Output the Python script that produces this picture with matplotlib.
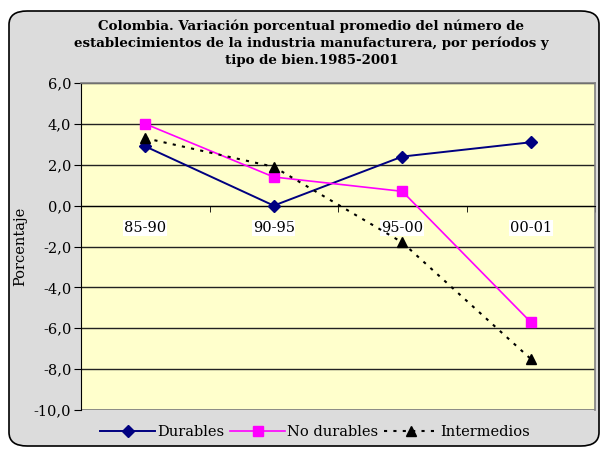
import matplotlib as mpl
import matplotlib.pyplot as plt
from matplotlib.patches import FancyBboxPatch
from matplotlib.ticker import FixedLocator, FuncFormatter

mpl.rcParams.update({
    "font.family": "DejaVu Serif",
    "font.size": 10,
})

periodos = ["85-90", "90-95", "95-00", "00-01"]
durables = [2.9, 0.0, 2.4, 3.1]
no_durables = [4.0, 1.4, 0.7, -5.7]
intermedios = [3.3, 1.9, -1.8, -7.5]
y_ticks = [-10, -8, -6, -4, -2, 0, 2, 4, 6]

titulo = ("Colombia. Variación porcentual promedio del número de\n"
          "establecimientos de la industria manufacturera, por períodos y\n"
          "tipo de bien.1985-2001")

fig = plt.figure(figsize=(6.06, 4.54), dpi=100)
fig.patch.set_facecolor("white")

# rounded grey chart area
W, H = 606, 454
frame = FancyBboxPatch((9 / W, 8 / H), 590 / W, 435 / H,
                       boxstyle="round,pad=0,rounding_size=0.03",
                       transform=fig.transFigure, facecolor="#dcdcdc",
                       edgecolor="black", linewidth=1.2, zorder=-5)
fig.patches.append(frame)

ax = fig.add_axes([81 / W, 1 - 410 / H, 514 / W, 327 / H])
ax.set_facecolor("#ffffcc")

x = list(range(len(periodos)))
ax.plot(x, durables, color="#000080", marker="D", markersize=6, linewidth=1.4,
        label="Durables", zorder=4)
ax.plot(x, no_durables, color="#ff00ff", marker="s", markersize=7.5, linewidth=1.2,
        label="No durables", zorder=4)
ax.plot(x, intermedios, color="black", marker="^", markersize=6.5, linewidth=1.5,
        linestyle=(0, (1.5, 3)), label="Intermedios", zorder=4)

ax.set_xlim(-0.5, len(periodos) - 0.5)
ax.set_ylim(-10, 6)
ax.yaxis.set_major_locator(FixedLocator(y_ticks))
ax.yaxis.set_major_formatter(FuncFormatter(lambda v, p: f"{v:.1f}".replace(".", ",")))
ax.grid(axis="y", color="#222222", linewidth=1.0)
ax.set_axisbelow(True)

for side in ("top", "right"):
    ax.spines[side].set_color("#808080")
    ax.spines[side].set_linewidth(1.2)
ax.spines["left"].set_color("black")
ax.spines["bottom"].set_position(("data", 0))
ax.spines["bottom"].set_color("black")

ax.xaxis.set_major_locator(FixedLocator(x))
ax.xaxis.set_minor_locator(FixedLocator([i + 0.5 for i in range(-1, len(periodos))]))
ax.set_xticklabels(periodos, fontsize=10.5,
                   bbox=dict(facecolor="white", edgecolor="none", pad=0.5))
ax.tick_params(axis="x", which="major", length=0, pad=11)
ax.tick_params(axis="x", which="minor", length=4, direction="out")
ax.tick_params(axis="y", length=5, direction="out", labelsize=10.5, pad=2)

# bottom edge of plot area
ax.axhline(-10, color="#808080", linewidth=1.2)

ax.set_ylabel("Porcentaje", fontsize=10.5, labelpad=5)

fig.text(0.514, 1 - 43 / H, titulo, ha="center", va="center",
         fontsize=9.6, fontweight="bold", linespacing=1.35)

fig.legend(loc="center", bbox_to_anchor=(0.52, 1 - 432 / H), ncol=3,
           frameon=False, fontsize=10.5, handlelength=3.8, handletextpad=0.1,
           columnspacing=0.4)

fig.savefig("out.png", dpi=100)
